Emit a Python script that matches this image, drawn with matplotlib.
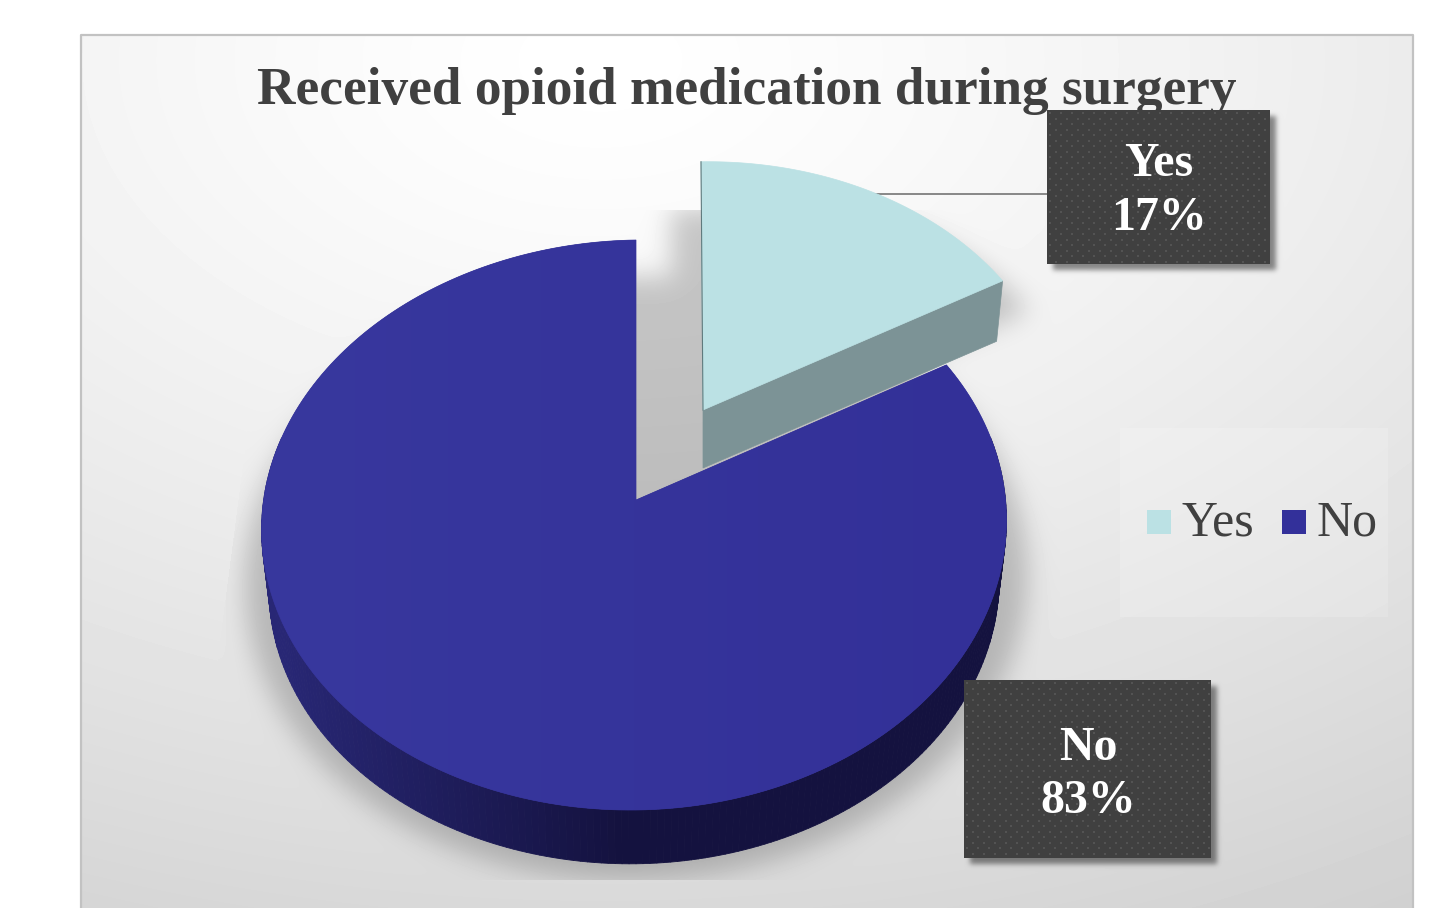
import numpy as np
import matplotlib
matplotlib.use("Agg")
import matplotlib.pyplot as plt
from matplotlib.collections import PolyCollection
from matplotlib.patches import Polygon, Rectangle
from matplotlib.path import Path

# Survey result
categories = ["Yes", "No"]
shares = [17, 83]
chart_title = "Received opioid medication during surgery"

W, H = 1439, 908
SERIF = "Liberation Serif"
INK = "#404040"
YES_TOP, YES_SIDE = "#bbe1e4", "#7c9396"
NO_TOP = "#353399"

# Perspective projection of the pie disc onto the page
PERSP = 0.0877
TILT = 5.0


def project(theta, apex, a, b, lean=0.0, drift=0.0):
    """Map clockwise-from-north angles on the unit disc to page coordinates."""
    u, v = np.sin(theta), np.cos(theta)
    w = 1 + PERSP * v
    return apex[0] + a * u / w - lean * v - drift * u ** 2, apex[1] - b * v / w - TILT * u


def wedge_outline(t0, t1, apex, a, b, lean=0.0, drift=0.0, n=240):
    t = np.linspace(t0, t1, n)
    x, y = project(t, apex, a, b, lean, drift)
    return np.vstack([[apex], np.column_stack([x, y])])


def blur(mask, sigma):
    fy = np.fft.fftfreq(mask.shape[0])[:, None]
    fx = np.fft.rfftfreq(mask.shape[1])[None, :]
    gain = np.exp(-2 * (np.pi * sigma) ** 2 * (fx ** 2 + fy ** 2))
    return np.fft.irfft2(np.fft.rfft2(mask) * gain, s=mask.shape)


yy, xx = np.mgrid[0:H, 0:W]
grid = np.column_stack([xx.ravel() + 0.5, yy.ravel() + 0.5])


def fill_mask(poly):
    return Path(poly).contains_points(grid).reshape(H, W).astype(float)


yes_sweep = 2 * np.pi * shares[0] / sum(shares)

NO_APEX, NO_A, NO_B = (636.0, 500.0), 371.0, 282.8
YES_APEX, YES_A, YES_B = (703.0, 410.0), 357.5, 270.0
NO_DRIFT = 2.0
NO_DEPTH, YES_DEPTH, BASE_SCALE = 60.0, 58.0, 0.98

no_top = wedge_outline(yes_sweep, 2 * np.pi, NO_APEX, NO_A, NO_B, drift=NO_DRIFT)
yes_top = wedge_outline(0, yes_sweep, YES_APEX, YES_A, YES_B, lean=2)

# Panel background: soft fade away from the upper middle
dist = np.hypot((xx - 600.0) / 1.6, yy - 60.0)
page = 255 - 45 * (dist / 960.0) ** 1.3
page = np.clip(page, 195, 255)

# Legend plate
plate = (xx >= 1120) & (xx < 1388) & (yy >= 428) & (yy < 617)
page = np.where(plate, page + (255 - page) * 0.15, page)

# Soft shadow cast by the pie, limited to the chart plot box
disc_t = np.linspace(0, 2 * np.pi, 360, endpoint=False)
dx, dy = project(disc_t, (636.0, 552.0), NO_A * 1.05, NO_B * 1.06)
yes_left = yes_top + np.array([-30.0, 46.0])
yes_right = yes_top + np.array([26.0, 30.0])
pie_mask = np.clip(
    fill_mask(np.column_stack([dx, dy])) + fill_mask(yes_left) + fill_mask(yes_right),
    0, 1,
)
pie_shadow = blur(pie_mask, 13.0)
left_limit = 237 - (yy - 507) * 0.13
pie_shadow *= (yy >= 210) & (yy < 880) & (xx >= left_limit) & (xx < 1060)
page = page * (1 - 0.21 * pie_shadow)

# Shadows under the two callout boxes
YES_BOX = (1047, 110, 1270, 264)
NO_BOX = (964, 680, 1211, 858)
box_mask = np.zeros((H, W))
for x0, y0, x1, y1 in (YES_BOX, NO_BOX):
    box_mask[y0 + 6:y1 + 6, x0 + 6:x1 + 6] = 1
page = page * (1 - 0.45 * blur(box_mask, 2.5))

# White sheet outside the panel
inside = (xx >= 81) & (xx <= 1413) & (yy >= 35)
page = np.where(inside, page, 255.0)

fig = plt.figure(figsize=(W / 100, H / 100), dpi=100)
ax = fig.add_axes([0, 0, 1, 1])
ax.set_xlim(0, W)
ax.set_ylim(H, 0)
ax.axis("off")
ax.imshow(page / 255.0, cmap="gray", vmin=0, vmax=1, extent=(0, W, H, 0),
          interpolation="bilinear", aspect="auto", zorder=0)
ax.plot([81, 81, 1413, 1413], [H + 5, 35, 35, H + 5], color="#c2c2c2", lw=1.6, zorder=1)

ax.text(747, 104, chart_title, family=SERIF, weight="bold", fontsize=38.3,
        color=INK, ha="center", va="baseline", zorder=2)

# Rim of the large slice, shaded strip by strip
rim_t = np.linspace(np.radians(78), np.radians(284), 207)
tx, ty = project(rim_t, NO_APEX, NO_A, NO_B, drift=NO_DRIFT)
bx, by = project(rim_t, (NO_APEX[0], NO_APEX[1] + NO_DEPTH), NO_A * BASE_SCALE, NO_B * BASE_SCALE,
                 drift=NO_DRIFT)
strips, strip_colors = [], []
dark = np.array([0x14, 0x12, 0x3f]) / 255
light = np.array([0x28, 0x27, 0x75]) / 255
for i in range(len(rim_t) - 1):
    strips.append([(tx[i], ty[i]), (tx[i + 1], ty[i + 1]), (bx[i + 1], by[i + 1]), (bx[i], by[i])])
    mid = 0.5 * (tx[i] + tx[i + 1])
    mix = np.clip((620 - mid) / 340, 0, 1)
    strip_colors.append(dark + (light - dark) * mix)
ax.add_collection(PolyCollection(strips, facecolors=strip_colors, edgecolors=strip_colors,
                                 linewidths=0.6, zorder=3))

# Top of the large slice with a faint left-to-right sheen
no_patch = Polygon(no_top, closed=True, facecolor=NO_TOP, edgecolor=NO_TOP, lw=0.5, zorder=4)
ax.add_patch(no_patch)
sheen = np.linspace(0, 1, 256)[None, :, None]
sheen_rgb = (np.array([0x38, 0x38, 0x9e]) + (np.array([0x33, 0x30, 0x98]) - np.array([0x38, 0x38, 0x9e])) * sheen) / 255
sheen_img = ax.imshow(sheen_rgb, extent=(261, 1007, 810, 240), aspect="auto",
                      interpolation="bilinear", zorder=4.1)
sheen_img.set_clip_path(no_patch)
ax.set_xlim(0, W)
ax.set_ylim(H, 0)

# Leader line for the "Yes" callout
ax.plot([860, YES_BOX[0]], [194, 194], color="#7f7f7f", lw=1.3, zorder=4.5)

# Exploded slice: cut face, then top
yes_edge_x, yes_edge_y = project(np.array([yes_sweep]), YES_APEX, YES_A, YES_B, lean=2)
base_apex = (YES_APEX[0], YES_APEX[1] + YES_DEPTH)
base_x, base_y = project(np.array([yes_sweep]), base_apex, YES_A * BASE_SCALE, YES_B * BASE_SCALE, lean=2)
ax.add_patch(Polygon([YES_APEX, (yes_edge_x[0], yes_edge_y[0]), (base_x[0], base_y[0]), base_apex],
                     closed=True, facecolor=YES_SIDE, edgecolor=YES_SIDE, lw=0.5, zorder=5))
ax.add_patch(Polygon(yes_top, closed=True, facecolor=YES_TOP, edgecolor=YES_TOP, lw=0.5, zorder=6))
ax.plot([yes_top[0, 0], yes_top[1, 0]], [yes_top[0, 1], yes_top[1, 1]], color="#5f7a7d", lw=0.8, zorder=6.5)


def callout(box, name, share, base1, base2):
    x0, y0, x1, y1 = box
    ax.add_patch(Rectangle((x0, y0), x1 - x0, y1 - y0, facecolor="#404040", edgecolor="none", zorder=7))
    px, py = [], []
    for row, yp in enumerate(np.arange(y0 + 3, y1 - 1, 5.5)):
        xs = np.arange(x0 + 3 + (row % 2) * 5.5, x1 - 1, 11.0)
        px.extend(xs)
        py.extend([yp] * len(xs))
    ax.scatter(px, py, s=3.0, marker="s", color="#535353", linewidths=0, zorder=7.5)
    cx = 0.5 * (x0 + x1) + 0.5
    ax.text(cx, base1, name, family=SERIF, weight="bold", fontsize=34.5, color="white",
            ha="center", va="baseline", zorder=8)
    ax.text(cx, base2, f"{share}%", family=SERIF, weight="bold", fontsize=34.5, color="white",
            ha="center", va="baseline", zorder=8)


callout(YES_BOX, categories[0], shares[0], 176, 230)
callout(NO_BOX, categories[1], shares[1], 760, 813)

# Legend
for swatch_x, text_x, name, col in zip((1147, 1282), (1182, 1317), categories, (YES_TOP, "#33309a")):
    ax.add_patch(Rectangle((swatch_x, 510), 24, 24, facecolor=col, edgecolor="none", zorder=3))
    ax.text(text_x, 536, name, family=SERIF, fontsize=36, color=INK, ha="left", va="baseline", zorder=3)

fig.savefig("out.png", dpi=100)
